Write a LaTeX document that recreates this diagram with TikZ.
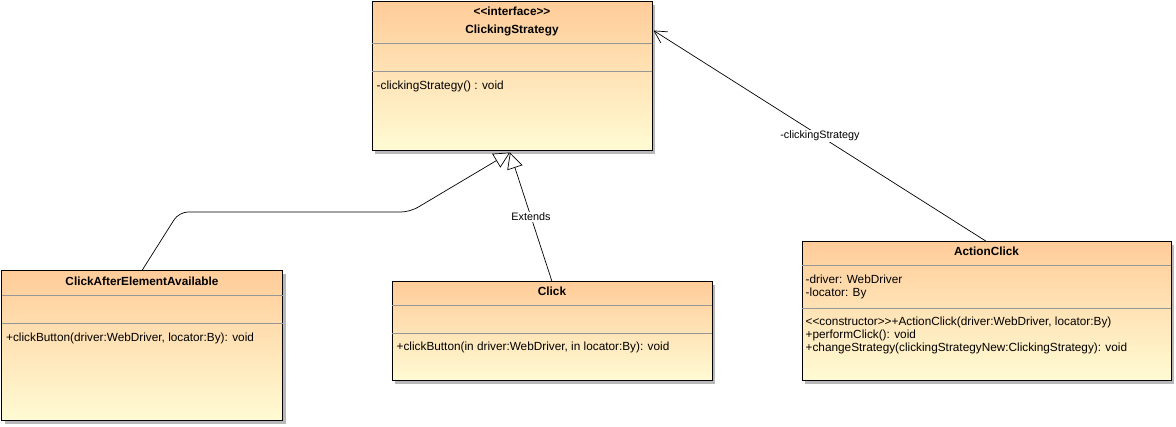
\documentclass[tikz,border=0pt]{standalone}
\usepackage{fontspec}
\setmainfont{Liberation Sans}
\usetikzlibrary{arrows.meta,positioning,calc,shadows}

\definecolor{umltop}{RGB}{255,204,153}
\definecolor{umlbot}{RGB}{255,251,212}
\definecolor{umlsep}{RGB}{150,150,150}

\begin{document}
\begin{tikzpicture}[
  x=1pt, y=-1pt,
  font=\fontsize{11.8}{13}\selectfont,
  classbox/.style={draw, line width=1pt, top color=umltop, bottom color=umlbot,
    drop shadow={shadow xshift=3pt, shadow yshift=-3pt, fill=black!28, opacity=1}},
  ctitle/.style={font=\fontsize{11.8}{13}\selectfont\bfseries, inner sep=0pt, anchor=base},
  member/.style={align=left, inner sep=0pt, anchor=base west},
  sep/.style={draw=umlsep, line width=0.8pt},
  gen/.style={-{Triangle[open, fill=white, length=16pt, width=16pt]}, line width=0.7pt},
  assoc/.style={-{Straight Barb[length=12pt, width=13pt]}, line width=0.7pt},
  lbl/.style={fill=white, inner sep=1pt, font=\fontsize{10.8}{12}\selectfont},
]
  \useasboundingbox (0,0) rectangle (1176,427);

  % classes
  \node[classbox, minimum width=280pt, minimum height=149pt] (cs) at (512,76.5) {};
  \node[classbox, minimum width=281pt, minimum height=150pt] (cae) at (142,346) {};
  \node[classbox, minimum width=320pt, minimum height=99pt] (click) at (552,331.5) {};
  \node[classbox, minimum width=369pt, minimum height=139pt] (ac) at (986.5,311.5) {};

  % compartments
  \foreach \n/\a/\b in {cs/42/70, cae/25/53, click/24/52, ac/24/67} {
    \draw[sep] ($(\n.north west)+(0.5,\a)$) -- ($(\n.north east)+(-0.5,\a)$);
    \draw[sep] ($(\n.north west)+(0.5,\b)$) -- ($(\n.north east)+(-0.5,\b)$);
  }

  % texts (base = last line)
  \node[ctitle] (cs-st) at ($(cs.north)+(0,14)$) {{<}{<}interface{>}{>}};
  \node[ctitle] (cs-name) at ($(cs.north)+(0,32)$) {ClickingStrategy};
  \node[member] (cs-op) at ($(cs.north west)+(5,88)$) {-clickingStrategy() : void};

  \node[ctitle] (cae-name) at ($(cae.north)+(0,15)$) {ClickAfterElementAvailable};
  \node[member] (cae-op) at ($(cae.north west)+(5,71)$) {+clickButton(driver:WebDriver, locator:By): void};

  \node[ctitle] (click-name) at ($(click.north)+(0,14)$) {Click};
  \node[member] (click-op) at ($(click.north west)+(5,69)$) {+clickButton(in driver:WebDriver, in locator:By): void};

  \node[ctitle] (ac-name) at ($(ac.north)+(0,14)$) {ActionClick};
  \node[member] (ac-att) at ($(ac.north west)+(4,55)$) {-driver: WebDriver\\-locator: By};
  \node[member] (ac-op) at ($(ac.north west)+(4,110)$) {{<}{<}constructor{>}{>}+ActionClick(driver:WebDriver, locator:By)\\+performClick(): void\\+changeStrategy(clickingStrategyNew:ClickingStrategy): void};

  % relations
  \coordinate (cs-in) at ($(cs.north east)+(1,29)$);
  \draw[gen, rounded corners=9pt] (cae.north) -- (179,212) -- (410,212) -- ($(cs.south)+(-2,1)$);
  \draw[gen] (click.north) -- node[lbl] (ext) {Extends} ($(cs.south)+(-2,1)$);
  \draw[assoc] (ac.north) -- node[lbl] (role) {-clickingStrategy} (cs-in);
\end{tikzpicture}
\end{document}
